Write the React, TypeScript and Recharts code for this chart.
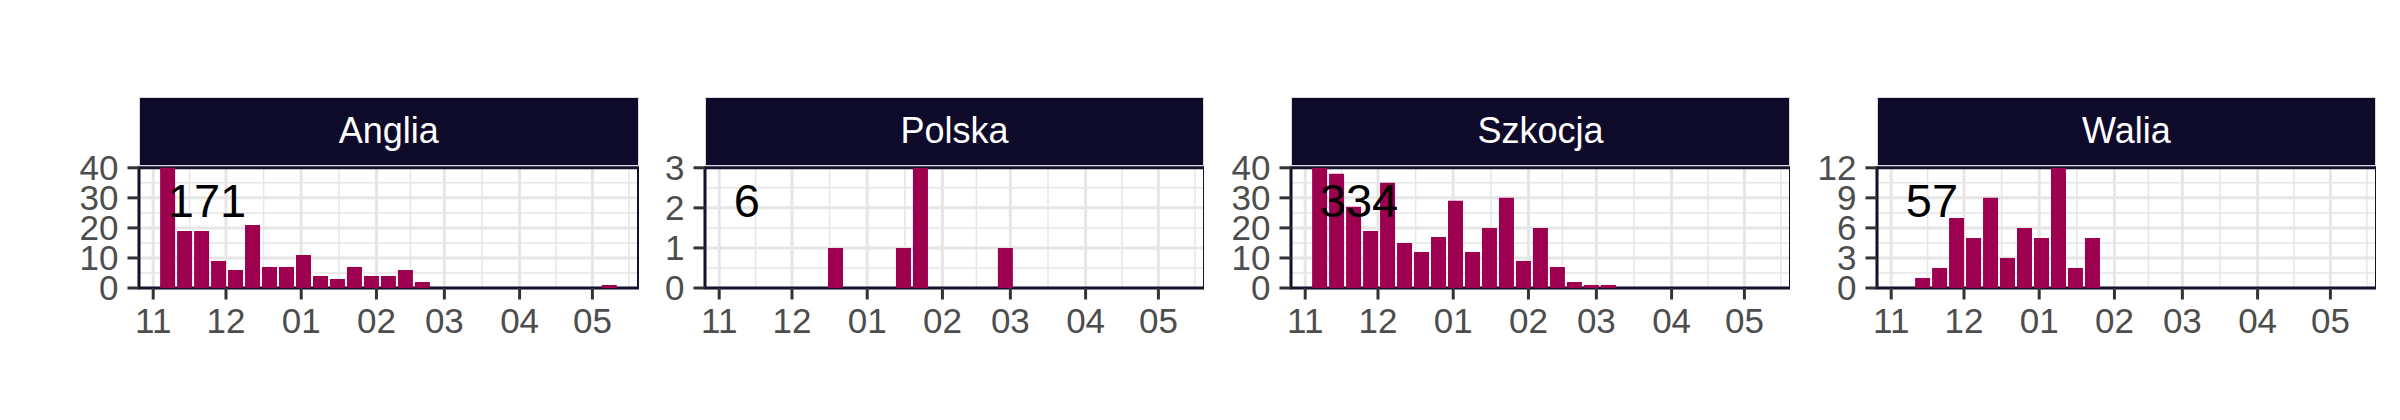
import React from 'react';
import { BarChart, Bar, XAxis, YAxis, CartesianGrid, ReferenceArea, ReferenceDot } from 'recharts';

// weekly bins (week start dates)
const weeks = [
    '2021-11-07', '2021-11-14', '2021-11-21', '2021-11-28', '2021-12-05', '2021-12-12',
    '2021-12-19', '2021-12-26', '2022-01-02', '2022-01-09', '2022-01-16', '2022-01-23',
    '2022-01-30', '2022-02-06', '2022-02-13', '2022-02-20', '2022-02-27', '2022-03-06',
    '2022-03-13', '2022-03-20', '2022-03-27', '2022-04-03', '2022-04-10', '2022-04-17',
    '2022-04-24', '2022-05-01', '2022-05-08',
];

const anglia = [41, 19, 19, 9, 6, 21, 7, 7, 11, 4, 3, 7, 4, 4, 6, 2, 0, 0, 0, 0, 0, 0, 0, 0, 0, 0, 1];
const polska = [0, 0, 0, 0, 0, 0, 1, 0, 0, 0, 1, 3, 0, 0, 0, 0, 1, 0, 0, 0, 0, 0, 0, 0, 0, 0, 0];
const szkocja = [40, 38, 27, 19, 35, 15, 12, 17, 29, 12, 20, 30, 9, 20, 7, 2, 1, 1, 0, 0, 0, 0, 0, 0, 0, 0, 0];
const walia = [0, 1, 2, 7, 5, 9, 3, 6, 5, 12, 2, 5, 0, 0, 0, 0, 0, 0, 0, 0, 0, 0, 0, 0, 0, 0, 0];

const monthStarts = ['2021-11-01', '2021-12-01', '2022-01-01', '2022-02-01', '2022-03-01', '2022-04-01', '2022-05-01'];
const monthLabels = ['11', '12', '01', '02', '03', '04', '05'];

const countries = ['Anglia', 'Polska', 'Szkocja', 'Walia'];
const yTicksList = [[0, 10, 20, 30, 40], [0, 1, 2, 3], [0, 10, 20, 30, 40], [0, 3, 6, 9, 12]];
const seriesList = [anglia, polska, szkocja, walia];

const ORIGIN = Date.parse('2021-11-01');
const dayOf = (s: string) => (Date.parse(s) - ORIGIN) / 86400000;

const BAR_COLOR = '#9c004f';
const STRIP_COLOR = '#0e0a2a';
const BORDER_COLOR = '#15122f';
const GRID_COLOR = '#e6e6e6';
const FONT = '"Liberation Sans", Arial, Helvetica, sans-serif';

const X_DOMAIN: [number, number] = [-5.85, 200];
const monthDays = monthStarts.map(dayOf);
// minor breaks halfway between month starts (plus one after the last)
const minorX = monthDays
    .map((d, i) => (i < monthDays.length - 1 ? (d + monthDays[i + 1]) / 2 : d + (d - monthDays[i - 1]) / 2))
    .filter((d) => d < X_DOMAIN[1]);

const PANEL_LEFTS = [139, 704.7, 1290.7, 1876.7];
const PANEL_W = 499.5;
const PANEL_TOP = 167.8;
const PANEL_BOTTOM = 288;
const Y_AXIS_W = 90;
const X_AXIS_H = 60;

function Panel({ index }: { index: number }) {
    const values = seriesList[index];
    const yTicks = yTicksList[index];
    const yMax = yTicks[yTicks.length - 1];
    const step = yTicks[1] - yTicks[0];
    const minorY = yTicks.slice(0, -1).map((t) => t + step / 2);
    const total = values.reduce((a, b) => a + b, 0);
    const data = weeks.map((w, i) => ({ day: dayOf(w), count: values[i] }));
    const left = PANEL_LEFTS[index];

    return (
        <>
            <div
                style={{
                    position: 'absolute',
                    left,
                    top: 96.5,
                    width: PANEL_W,
                    height: 69,
                    boxSizing: 'border-box',
                    border: '1.5px solid #d9d9d9',
                    background: STRIP_COLOR,
                    color: 'white',
                    fontSize: 36,
                    display: 'flex',
                    alignItems: 'center',
                    justifyContent: 'center',
                }}
            >
                {countries[index]}
            </div>
            <div style={{ position: 'absolute', left: left - Y_AXIS_W, top: 0 }}>
                <BarChart
                    width={Y_AXIS_W + PANEL_W}
                    height={420}
                    data={data}
                    barCategoryGap="5%"
                    margin={{ top: PANEL_TOP, right: 0, left: 0, bottom: 420 - PANEL_BOTTOM - X_AXIS_H }}
                >
                    <CartesianGrid stroke={GRID_COLOR} strokeWidth={1.5} horizontalValues={minorY} verticalValues={minorX} />
                    <CartesianGrid stroke={GRID_COLOR} strokeWidth={3} />
                    <XAxis
                        dataKey="day"
                        type="number"
                        domain={X_DOMAIN}
                        allowDataOverflow
                        ticks={monthDays}
                        interval={0}
                        tickFormatter={(v) => monthLabels[monthDays.indexOf(v)]}
                        height={X_AXIS_H}
                        axisLine={false}
                        tickSize={11.5}
                        tickMargin={9}
                        tickLine={{ stroke: '#333333', strokeWidth: 3 }}
                        tick={{ fill: '#4d4d4d', fontSize: 35, fontFamily: FONT }}
                    />
                    <YAxis
                        type="number"
                        domain={[0, yMax]}
                        allowDataOverflow
                        ticks={yTicks}
                        interval={0}
                        width={Y_AXIS_W}
                        axisLine={false}
                        tickSize={11.5}
                        tickMargin={9}
                        tickLine={{ stroke: '#333333', strokeWidth: 3 }}
                        tick={{ fill: '#4d4d4d', fontSize: 35, fontFamily: FONT }}
                    />
                    <Bar dataKey="count" fill={BAR_COLOR} isAnimationActive={false} />
                    <ReferenceArea
                        x1={X_DOMAIN[0]}
                        x2={X_DOMAIN[1]}
                        y1={0}
                        y2={yMax}
                        fill="none"
                        fillOpacity={0}
                        stroke={BORDER_COLOR}
                        strokeOpacity={1}
                        strokeWidth={3}
                        ifOverflow="visible"
                    />
                    <ReferenceDot
                        x={dayOf(weeks[0])}
                        y={yMax * 0.75}
                        ifOverflow="visible"
                        shape={(p: any) => (
                            <text x={p.cx} y={p.cy} dy="0.4em" fontSize={47} fill="#000" textAnchor="start" fontFamily={FONT}>
                                {total}
                            </text>
                        )}
                    />
                </BarChart>
            </div>
        </>
    );
}

export default function App() {
    return (
        <div
            style={{
                position: 'absolute',
                left: 0,
                top: 0,
                width: 2400,
                height: 420,
                background: 'white',
                fontFamily: FONT,
            }}
        >
            {countries.map((c, i) => (
                <Panel key={c} index={i} />
            ))}
        </div>
    );
}
